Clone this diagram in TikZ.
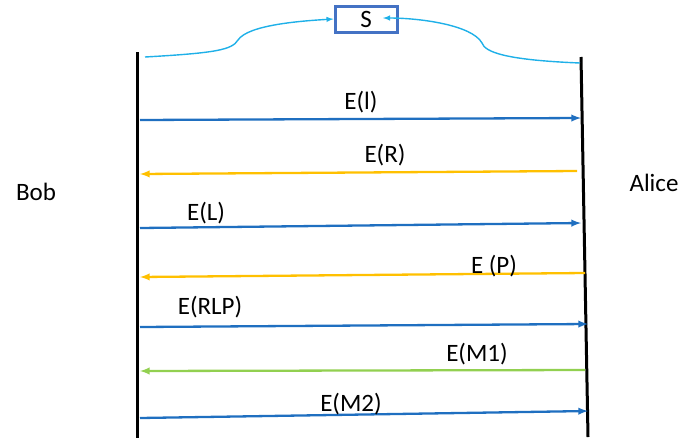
\documentclass[tikz,border=0pt]{standalone}
\usepackage{fontspec}
\setmainfont{Carlito}
\usepackage{xcolor}
\usetikzlibrary{shapes,arrows,positioning,calc}

\definecolor{msgblue}{HTML}{1F6FC0}
\definecolor{msgorange}{HTML}{FFC000}
\definecolor{msggreen}{HTML}{92D050}
\definecolor{keyblue}{HTML}{1FB0E8}
\definecolor{boxblue}{HTML}{4472C4}

\begin{document}
\begin{tikzpicture}[x=1pt, y=-1pt, >=latex,
    every node/.style={font=\fontsize{25}{28}\selectfont},
    lifeline/.style={draw=black, line width=3pt},
    msg/.style={->, line width=2.3pt},
    keyline/.style={->, draw=keyblue, line width=1.4pt}]
    \useasboundingbox (0,0) rectangle (685,445);

    % parties
    \node (bob) at (36,192) {Bob};
    \node (alice) at (654,183) {Alice};
    \draw [lifeline] (137,52) coordinate (bobtop) -- (137,438) coordinate (bobbot);
    \draw [lifeline] (581,57) coordinate (alicetop) -- (588,437) coordinate (alicebot);

    % shared key
    \node (s) [rectangle, draw=boxblue, line width=3pt, minimum width=62pt, minimum height=26pt, inner sep=0pt] at (366,19) {S};
    \coordinate (kb) at (145,57);
    \coordinate (ka) at (580,63);
    \draw [keyline] (kb) .. controls (215,53) and (232,50) .. (238,40)
        .. controls (248,25) and (300,21) .. (s.west);
    \draw [keyline] (ka) .. controls (505,60) and (485,52) .. (482,43)
        .. controls (472,25) and (420,18) .. (383,18);

    % messages
    \coordinate (b1) at (140,120);  \coordinate (a1) at (581,118);
    \coordinate (a2) at (577,171);  \coordinate (b2) at (140,174);
    \coordinate (b3) at (140,228);  \coordinate (a3) at (581,223);
    \coordinate (a4) at (585,273);  \coordinate (b4) at (140,277);
    \coordinate (b5) at (140,327);  \coordinate (a5) at (588,324);
    \coordinate (a6) at (585,370);  \coordinate (b6) at (140,371);
    \coordinate (b7) at (140,418);  \coordinate (a7) at (588,411);

    \draw [msg, draw=msgblue] (b1) -- (a1);
    \draw [msg, draw=msgorange] (a2) -- (b2);
    \draw [msg, draw=msgblue] (b3) -- (a3);
    \draw [msg, draw=msgorange] (a4) -- (b4);
    \draw [msg, draw=msgblue] (b5) -- (a5);
    \draw [msg, draw=msggreen] (a6) -- (b6);
    \draw [msg, draw=msgblue] (b7) -- (a7);

    \node (l1) at (361,102) {E(l)};
    \node (l2) at (385,155) {E(R)};
    \node (l3) at (206,213) {E(L)};
    \node (l4) at (494,266) {E (P)};
    \node (l5) at (210,307) {E(RLP)};
    \node (l6) at (477,354) {E(M1)};
    \node (l7) at (351,404) {E(M2)};
\end{tikzpicture}
\end{document}
